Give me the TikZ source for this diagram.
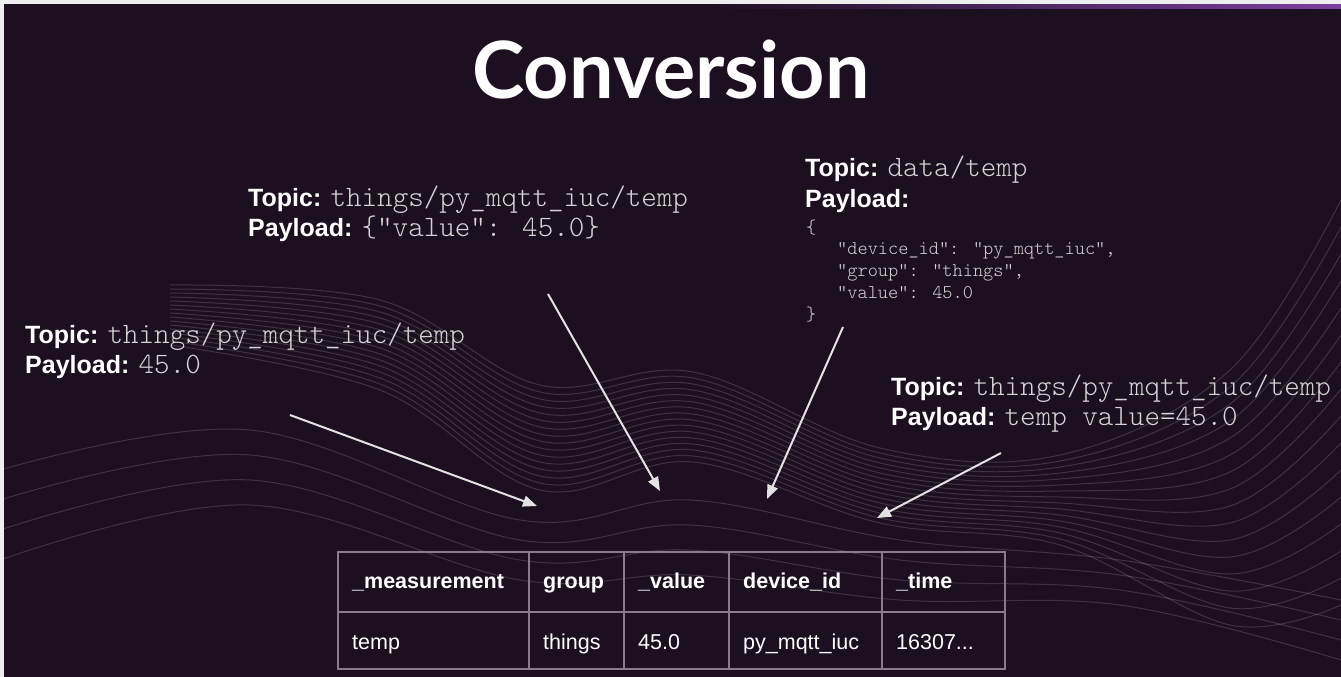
\documentclass[tikz,border=0pt]{standalone}
\usepackage{fontspec}
\setmainfont{Liberation Sans}
\newfontfamily\titlefont{Lato}
\newfontfamily\codefont{Latin Modern Mono Light}
\usetikzlibrary{arrows.meta}

\definecolor{slidebg}{HTML}{1C0F1F}
\definecolor{slideedge}{HTML}{EEEEEE}
\definecolor{accent}{HTML}{7B3FA0}
\definecolor{arrowgray}{HTML}{E2E2E2}
\definecolor{codegray}{HTML}{D4D4D4}
\definecolor{gridgray}{HTML}{867D89}

\tikzset{
  msgline/.style={anchor=base west, inner sep=0pt, text=white,
    font=\fontsize{25}{30}\selectfont},
  jsonline/.style={anchor=base west, inner sep=0pt, text=codegray,
    font=\codefont\fontsize{19.4}{22}\selectfont},
  cellhead/.style={anchor=base west, inner sep=0pt, text=white,
    font=\bfseries\fontsize{21.5}{24}\selectfont},
  cellrow/.style={anchor=base west, inner sep=0pt, text=white,
    font=\fontsize{21.5}{24}\selectfont},
  gridline/.style={draw=gridgray, line width=2pt},
  waveline/.style={draw=white, opacity=0.15, line width=1pt},
  pointer/.style={draw=arrowgray, line width=2pt,
    -{Triangle[length=14pt,width=11pt]}}
}
\newcommand{\code}[1]{{\codefont\fontsize{29.6}{30}\selectfont\color{codegray}#1}}

\begin{document}
\begin{tikzpicture}[x=1pt,y=-1pt]
        \useasboundingbox (0,0) rectangle (1341,677);
        % slide background
        \fill[slideedge] (0,0) rectangle (1341,677);
        \fill[slidebg] (4,4) rectangle (1341,677);
        \shade[left color=slidebg, right color=accent] (700,5) rectangle (1341,9);
        % background waves
        \foreach \i in {0,...,15} {
          \draw[waveline] plot[smooth, tension=0.6] coordinates {
            (170,{285+4*\i}) (380,{300+6*\i}) (540,{385+7*\i}) (693,{372+6*\i})
            (880,{448+5*\i}) (1060,{455+6*\i}) (1230,{370+17*\i}) (1341,{200+27*\i})};
        }
        \foreach \i in {0,...,3} {
          \draw[waveline] plot[smooth, tension=0.6] coordinates {
            (0,{470+30*\i}) (250,{430+25*\i}) (520,{520+20*\i}) (690,{500+25*\i})
            (900,{540+20*\i}) (1120,{560+15*\i}) (1341,{600+20*\i})};
        }
        % title
        \node[anchor=base, inner sep=0pt, text=white,
              font=\titlefont\bfseries\fontsize{79}{80}\selectfont] (title) at (671,99) {Conversion};
        % raw value message
        \node[msgline] (topicraw)    at (25,343)  {\textbf{Topic:} \code{things/py\_mqtt\_iuc/temp}};
        \node[msgline] (payloadraw)  at (25,373)  {\textbf{Payload:} \code{45.0}};
        % json value message
        \node[msgline] (topicjson)   at (248,206) {\textbf{Topic:} \code{things/py\_mqtt\_iuc/temp}};
        \node[msgline] (payloadjson) at (248,236) {\textbf{Payload:} \code{\{“value”: 45.0\}}};
        % full json message
        \node[msgline]  (topicfull)   at (805,176) {\textbf{Topic:} \code{data/temp}};
        \node[msgline]  (payloadfull) at (805,207) {\textbf{Payload:}};
        \node[jsonline] (jsonopen)    at (806,233) {\{};
        \node[jsonline] (jsondevice)  at (837,254) {“device\_id”: “py\_mqtt\_iuc”,};
        \node[jsonline] (jsongroup)   at (837,276) {“group”: “things”,};
        \node[jsonline] (jsonvalue)   at (837,298) {“value”: 45.0};
        \node[jsonline] (jsonclose)   at (806,320) {\}};
        % line protocol message
        \node[msgline] (topicline)   at (891,395) {\textbf{Topic:} \code{things/py\_mqtt\_iuc/temp}};
        \node[msgline] (payloadline) at (891,425) {\textbf{Payload:} \code{temp value=45.0}};
        % arrow ends
        \coordinate (rawstart)  at (290,415);
        \coordinate (rawend)    at (537,506);
        \coordinate (jsonstart) at (548,294);
        \coordinate (jsonend)   at (660,491);
        \coordinate (fullstart) at (843,327);
        \coordinate (fullend)   at (767,499);
        \coordinate (linestart) at (1001,453);
        \coordinate (lineend)   at (877,518);
        \draw[pointer] (rawstart)  -- (rawend);
        \draw[pointer] (jsonstart) -- (jsonend);
        \draw[pointer] (fullstart) -- (fullend);
        \draw[pointer] (linestart) -- (lineend);
        % result table
        \draw[gridline] (338,552) rectangle (1005,669);
        \draw[gridline] (338,612) -- (1005,612);
        \foreach \x in {529,624,729,882}
          \draw[gridline] (\x,552) -- (\x,669);
        \node[cellhead] (headmeasurement) at (352,588) {\_measurement};
        \node[cellhead] (headgroup)       at (543,588) {group};
        \node[cellhead] (headvalue)       at (638,588) {\_value};
        \node[cellhead] (headdevice)      at (743,588) {device\_id};
        \node[cellhead] (headtime)        at (896,588) {\_time};
        \node[cellrow]  (rowmeasurement)  at (352,649) {temp};
        \node[cellrow]  (rowgroup)        at (543,649) {things};
        \node[cellrow]  (rowvalue)        at (638,649) {45.0};
        \node[cellrow]  (rowdevice)       at (743,649) {py\_mqtt\_iuc};
        \node[cellrow]  (rowtime)         at (896,649) {16307...};
\end{tikzpicture}
\end{document}
